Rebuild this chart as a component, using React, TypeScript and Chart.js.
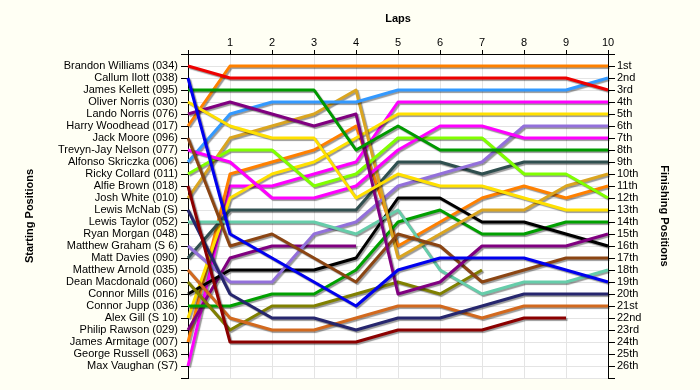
import React, { useEffect, useRef } from 'react';
import { Chart, registerables } from 'chart.js';

Chart.register(...registerables);

const FONT = '"Liberation Sans", Arial, sans-serif';

const laps = [0, 1, 2, 3, 4, 5, 6, 7, 8, 9, 10];

const startingLabels = [
  'Brandon Williams (034)', 'Callum Ilott (038)', 'James Kellett (095)', 'Oliver Norris (030)',
  'Lando Norris (076)', 'Harry Woodhead (017)', 'Jack Moore (096)', 'Trevyn-Jay Nelson (077)',
  'Alfonso Skriczka (006)', 'Ricky Collard (011)', 'Alfie Brown (018)', 'Josh White (010)',
  'Lewis McNab (S)', 'Lewis Taylor (052)', 'Ryan Morgan (048)', 'Matthew Graham (S 6)',
  'Matt Davies (090)', 'Matthew Arnold (035)', 'Dean Macdonald (060)', 'Connor Mills (016)',
  'Connor Jupp (036)', 'Alex Gill (S 10)', 'Philip Rawson (029)', 'James Armitage (007)',
  'George Russell (063)', 'Max Vaughan (S7)',
];

const finishingLabels = [
  '1st', '2nd', '3rd', '4th', '5th', '6th', '7th', '8th', '9th', '10th', '11th', '12th', '13th',
  '14th', '15th', '16th', '17th', '18th', '19th', '20th', '21st', '22nd', '23rd', '24th', '25th', '26th',
];

// positions per lap (lap 0 = grid)
const brandonWilliams = [1, 2, 2, 2, 2, 2, 2, 2, 2, 2, 3];
const callumIlott = [2, 15, 17, 19, 21, 18, 17, 17, 17, 18, 19];
const jamesKellett = [3, 3, 3, 3, 8, 6, 8, 8, 8, 8, 8];
const oliverNorris = [4, 6, 7, 7, 12, 10, 11, 11, 12, 13, 13];
const landoNorris = [5, 4, 5, 6, 5, 20, 19, 16, 16, 16, 15];
const harryWoodhead = [6, 1, 1, 1, 1, 1, 1, 1, 1, 1, 1];
const jackMoore = [7, 16, 15, 17, 19, 15, 16, 19, 18, 17, 17];
const trevynJayNelson = [8, 9, 12, 12, 11, 8, 6, 6, 7, 7, 7];
const alfonsoSkriczka = [9, 5, 4, 4, 4, 3, 3, 3, 3, 3, 2];
const rickyCollard = [10, 8, 8, 11, 10, 7, 7, 7, 10, 10, 12];
const alfieBrown = [11, 24, 24, 24, 24, 23, 23, 23, 22, 22];
const joshWhite = [12, 7, 6, 5, 3, 17, 15, 13, 13, 11, 10];
const lewisMcNab = [13, 20, 22, 22, 23, 22, 22, 21, 20, 20, 20];
const lewisTaylor = [14, 14, 14, 14, 15, 13, 18, 20, 19, 19, 18];
const ryanMorgan = [15];
const matthewGraham = [16, 19, 19, 15, 14, 11, 10, 9, 6, 6, 6];
const mattDavies = [17, 13, 13, 13, 13, 9, 9, 10, 9, 9, 9];
const matthewArnold = [18, 22, 23, 23, 22, 21, 21, 22, 21, 21, 21];
const deanMacdonald = [19, 23, 21, 21, 20, 19, 20, 18];
const connorMills = [20, 18, 18, 18, 17, 12, 12, 14, 14, 15, 16];
const connorJupp = [21, 21, 20, 20, 18, 14, 13, 15, 15, 14, 14];
const alexGill = [22, 12, 10, 9, 7, 5, 5, 5, 5, 5, 5];
const philipRawson = [23, 17, 16, 16, 16];
const jamesArmitage = [24, 10, 9, 8, 6, 16, 14, 12, 11, 12, 11];
const georgeRussell = [25];
const maxVaughan = [26, 11, 11, 10, 9, 4, 4, 4, 4, 4, 4];

const driverSeries = [
  brandonWilliams, callumIlott, jamesKellett, oliverNorris, landoNorris, harryWoodhead,
  jackMoore, trevynJayNelson, alfonsoSkriczka, rickyCollard, alfieBrown, joshWhite,
  lewisMcNab, lewisTaylor, ryanMorgan, matthewGraham, mattDavies, matthewArnold,
  deanMacdonald, connorMills, connorJupp, alexGill, philipRawson, jamesArmitage,
  georgeRussell, maxVaughan,
];

const driverColors = [
  '#ee0000', '#0000ee', '#009a00', '#ffe000', '#800080', '#ff8000',
  '#8b4513', '#ff00ff', '#3399ff', '#80ff00', '#8b0000', '#daa520',
  '#26266e', '#66cdaa', '#4682b4', '#9370db', '#2f4f4f', '#d2691e',
  '#808000', '#000000', '#00a000', '#ffe000', '#800080', '#ff8000',
  '#a0a0a0', '#ff00ff',
];

const bgPlugin = {
  id: 'bg',
  beforeDraw(chart: any) {
    const { ctx, chartArea } = chart;
    ctx.save();
    ctx.fillStyle = '#fffff4';
    ctx.fillRect(0, 0, chart.width, chart.height);
    ctx.fillStyle = '#ffffff';
    ctx.fillRect(chartArea.left, chartArea.top, chartArea.right - chartArea.left, chartArea.bottom - chartArea.top);
    ctx.restore();
  },
};

const shadowPlugin = {
  id: 'lineShadow',
  beforeDatasetDraw(chart: any) {
    const ctx = chart.ctx;
    ctx.save();
    ctx.shadowColor = 'rgba(0,0,0,0.4)';
    ctx.shadowOffsetX = 1.5;
    ctx.shadowOffsetY = 1.5;
    ctx.shadowBlur = 1;
  },
  afterDatasetDraw(chart: any) {
    chart.ctx.restore();
  },
};

export default function App() {
  const ref = useRef<HTMLCanvasElement>(null);

  useEffect(() => {
    if (!ref.current) return;
    const datasets = driverSeries.map((series, i) => ({
      label: startingLabels[i],
      data: series
        .map((p, lap) => ({ x: laps[lap], y: p }))
        .filter((d) => d.y !== null && d.y !== undefined),
      borderColor: driverColors[i],
      backgroundColor: driverColors[i],
      borderWidth: 3,
      pointRadius: 0,
      tension: 0,
      fill: false,
      borderJoinStyle: 'round' as const,
      clip: false as any,
    }));

    const tickFont = { family: FONT, size: 11 };
    const titleFont = { family: FONT, size: 11, weight: 'bold' as const };

    const chart = new Chart(ref.current, {
      type: 'line',
      data: { datasets },
      options: {
        responsive: false,
        animation: false,
        devicePixelRatio: 1,
        layout: { padding: { left: 0, right: 0, top: 0, bottom: 12 } },
        plugins: {
          legend: { display: false },
          tooltip: { enabled: false },
        },
        scales: {
          x: {
            type: 'linear',
            position: 'top',
            min: 0,
            max: 10,
            ticks: {
              stepSize: 1,
              autoSkip: false,
              maxRotation: 0,
              color: '#000',
              font: tickFont,
              padding: 0,
              callback: (v: any) => (v === 0 ? '' : String(v)),
            },
            grid: { color: '#e4e4e4', tickColor: '#000', tickLength: 4 },
            border: { color: '#000', width: 1 },
            title: {
              display: true,
              text: 'Laps',
              color: '#000',
              font: titleFont,
              padding: { top: 12, bottom: 0 },
            },
            afterFit: (s: any) => { s.height = 54; },
          },
          y: {
            type: 'linear',
            position: 'left',
            min: 0,
            max: 27,
            reverse: true,
            ticks: {
              stepSize: 1,
              autoSkip: false,
              color: '#000',
              font: tickFont,
              padding: 3,
              callback: (v: any) => startingLabels[v - 1] ?? '',
            },
            grid: { color: '#e4e4e4', tickColor: '#000', tickLength: 7 },
            border: { color: '#000', width: 1 },
            title: {
              display: true,
              text: 'Starting Positions',
              color: '#000',
              font: titleFont,
              padding: { top: 23, bottom: 0 },
            },
            afterFit: (s: any) => { s.width = 188; },
          },
          y2: {
            type: 'linear',
            position: 'right',
            min: 0,
            max: 27,
            reverse: true,
            ticks: {
              stepSize: 1,
              autoSkip: false,
              color: '#000',
              font: tickFont,
              padding: 2,
              callback: (v: any) => finishingLabels[v - 1] ?? '',
            },
            grid: { drawOnChartArea: false, tickColor: '#000', tickLength: 7 },
            border: { color: '#000', width: 1 },
            title: {
              display: true,
              text: 'Finishing Positions',
              color: '#000',
              font: titleFont,
              padding: { top: 29, bottom: 0 },
            },
            afterFit: (s: any) => { s.width = 92; },
          },
        },
      } as any,
      plugins: [bgPlugin, shadowPlugin],
    });
    return () => chart.destroy();
  }, []);

  return (
    <div style={{ position: 'fixed', left: 0, top: 0, width: 700, height: 390 }}>
      <canvas ref={ref} width={700} height={390} />
    </div>
  );
}
